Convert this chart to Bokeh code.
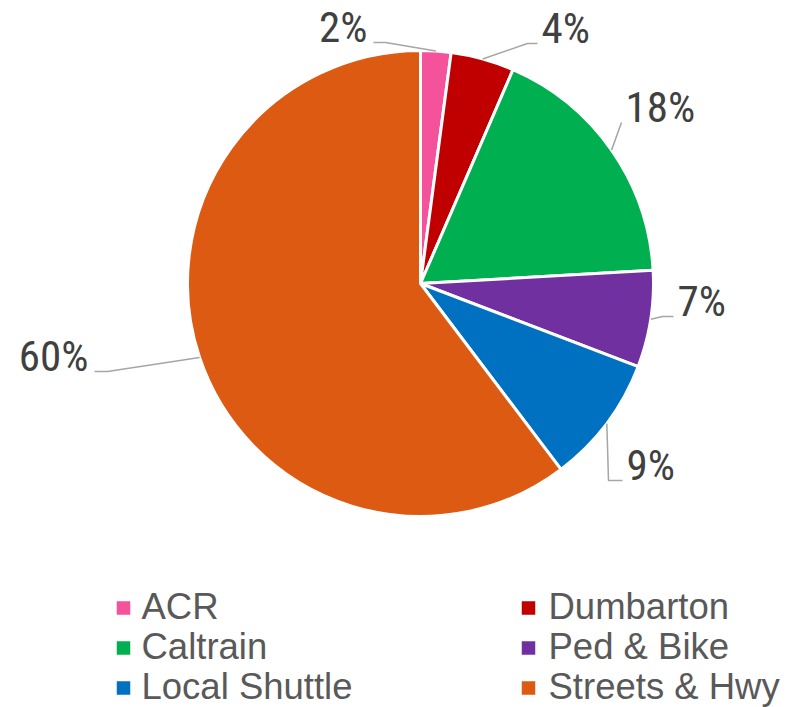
import math
from bokeh.plotting import figure
from bokeh.models import Range1d, ColumnDataSource
from bokeh.core.properties import value
from bokeh.embed import file_html
from bokeh.resources import INLINE

# ---- data ----
categories = ["ACR", "Dumbarton", "Caltrain", "Ped & Bike", "Local Shuttle", "Streets & Hwy"]
shares = [2.1, 4.4, 17.6, 6.7, 8.9, 60.3]
pct_labels = ["2%", "4%", "18%", "7%", "9%", "60%"]
colors = ["#F4529A", "#C00000", "#00B050", "#7030A0", "#0070C0", "#DC5A12"]

# ---- layout (pixel-like units; y measured upward) ----
W, H = 800, 707
CX, CY, R = 420, H - 283, 233
# label elbow / end offsets relative to centre (image direction: dy down), text side
label_layout = [
    (-35, -241, -47, "right"),
    (107, -240, 117, "left"),
    (201, -161, 201, "left"),
    (242, 33, 253, "left"),
    (188, 197, 202, "left"),
    (-313, 88, -326, "right"),
]

p = figure(width=W, height=H, x_range=Range1d(0, W), y_range=Range1d(0, H),
           x_axis_type=None, y_axis_type=None, toolbar_location=None,
           output_backend="svg", min_border=0)
p.grid.visible = False
p.outline_line_color = None
p.background_fill_color = "white"
p.border_fill_color = "white"

total = sum(shares)
starts, ends, mids = [], [], []
cum = 0.0
for s in shares:
    a0 = math.pi / 2 - 2 * math.pi * cum / total
    cum += s
    a1 = math.pi / 2 - 2 * math.pi * cum / total
    starts.append(a0)
    ends.append(a1)
    mids.append((a0 + a1) / 2)

src = ColumnDataSource(dict(start=starts, end=ends, color=colors, cat=categories))
p.wedge(x=CX, y=CY, radius=R, start_angle="start", end_angle="end", direction="clock",
        fill_color="color", line_color="white", line_width=3, source=src)

# leader lines and labels
lx, ly = [], []
tx_l, ty_l, tt_l = [], [], []
tx_r, ty_r, tt_r = [], [], []
for m, lab, (ex, ey, dx2, side) in zip(mids, pct_labels, label_layout):
    sx = CX + R * math.cos(m)
    sy = CY + R * math.sin(m)
    e1 = (CX + ex, CY - ey)
    e2 = (CX + dx2, CY - ey)
    lx.append([sx, e1[0], e2[0]])
    ly.append([sy, e1[1], e2[1]])
    if side == "left":
        tx_l.append(e2[0] + 4); ty_l.append(e2[1] + 15.5); tt_l.append(lab)
    else:
        tx_r.append(e2[0] - 6); ty_r.append(e2[1] + 15.5); tt_r.append(lab)

p.multi_line(xs=lx, ys=ly, line_color="#A6A6A6", line_width=1.5)
lab_font = value("'Roboto Condensed', 'DejaVu Sans Condensed', 'Liberation Sans Narrow', 'Arial Narrow', sans-serif")
p.text(x=tx_l, y=ty_l, text=tt_l, text_font=lab_font, text_font_size="43px",
       text_color="#404040", text_align="left", text_baseline="middle")
p.text(x=tx_r, y=ty_r, text=tt_r, text_font=lab_font, text_font_size="43px",
       text_color="#404040", text_align="right", text_baseline="middle")

# legend (two columns, three rows)
col_sq_x = [123, 528]
col_tx_x = [141, 548]
row_mid = [605.5, 645.5, 685.5]
sq_x, sq_y, leg_x, leg_y = [], [], [], []
for i, cat in enumerate(categories):
    c, r = i % 2, i // 2
    sq_x.append(col_sq_x[c]); sq_y.append(H - (row_mid[r] + 2))
    leg_x.append(col_tx_x[c]); leg_y.append(H - row_mid[r])
p.scatter(x=sq_x, y=sq_y, marker="square", size=13.5, fill_color=colors, line_color=None)
p.text(x=leg_x, y=leg_y, text=categories, text_font=value("Liberation Sans"),
       text_font_size="36.5px", text_color="#595959", text_align="left",
       text_baseline="middle")

open("out.html", "w").write(file_html(p, INLINE))
